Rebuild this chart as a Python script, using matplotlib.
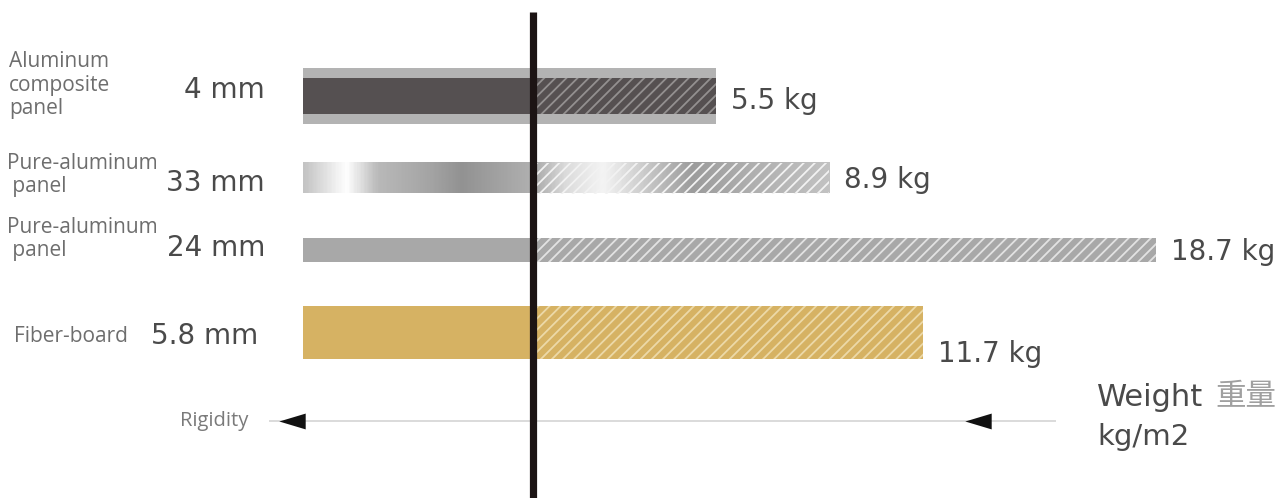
import numpy as np
import matplotlib
matplotlib.use("Agg")
import matplotlib.pyplot as plt
from matplotlib.patches import Rectangle
from matplotlib.colors import LinearSegmentedColormap

# panel data: name, thickness, weight per square metre
names = ["Aluminum\ncomposite\npanel", "Pure-aluminum\n panel", "Pure-aluminum\n panel", "Fiber-board"]
thickness = ["4 mm", "33 mm", "24 mm", "5.8 mm"]
weight = [5.5, 8.9, 18.7, 11.7]

# layout (pixels from top) and styles
row_y = [96, 178, 250, 332]
row_h = [36, 31, 24, 53]
rigid_span = 6.9          # width of the left (rigidity) part, in kg units
px_per_kg = 33.3
W, H = 1284, 498
x0 = 533                  # divider position in pixels

fig = plt.figure(figsize=(W / 100, H / 100), dpi=100)
ax = fig.add_axes([0, 0, 1, 1])
ax.set_xlim(-x0 / px_per_kg, (W - x0) / px_per_kg)
ax.set_ylim(H, 0)
ax.axis("off")

plt.rcParams["hatch.linewidth"] = 1.3

def hatched(y, h, right, face, hatch_col, z=2):
    ax.add_patch(Rectangle((0, y - h / 2), right, h, facecolor=face, edgecolor="none", zorder=z))
    ax.add_patch(Rectangle((0, y - h / 2), right, h, facecolor="none", edgecolor=hatch_col,
                           hatch="///", linewidth=0, zorder=z + 0.1))

# 1: aluminium composite, dark core with light skins
y, h = row_y[0], row_h[0]
ax.barh(y, weight[0] + rigid_span, height=56, left=-rigid_span, color="#b3b3b3", zorder=1)
ax.barh(y, rigid_span, height=h, left=-rigid_span, color="#555051", zorder=2)
hatched(y, h, weight[0], "#555051", "#939090")

# 2: brushed metal gradient
metal = LinearSegmentedColormap.from_list("metal", [
    (0.00, "#c4c4c4"), (0.08, "#ffffff"), (0.14, "#b9b9b9"), (0.24, "#a4a4a4"),
    (0.30, "#929292"), (0.42, "#adadad"), (0.45, "#b2b2b2"), (0.50, "#dcdcdc"),
    (0.57, "#f4f4f4"), (0.64, "#cfcfcf"), (0.74, "#9c9c9c"), (0.86, "#b0b0b0"),
    (1.00, "#c2c2c2")])
y, h = row_y[1], row_h[1]
grad = np.linspace(0, 1, 400)[None, :]
ax.imshow(grad, cmap=metal, aspect="auto", interpolation="bilinear",
          extent=(-rigid_span, weight[1], y + h / 2, y - h / 2), zorder=2)
ax.add_patch(Rectangle((0, y - h / 2), weight[1], h, facecolor="none", edgecolor="#f2f2f2",
                       hatch="///", linewidth=0, zorder=2.1))

# 3: pure aluminium, flat grey
y, h = row_y[2], row_h[2]
ax.barh(y, rigid_span, height=h, left=-rigid_span, color="#a8a8a8", zorder=2)
hatched(y, h, weight[2], "#a8a8a8", "#e2e2e2")

# 4: fiber-board, gold
y, h = row_y[3], row_h[3]
ax.barh(y, rigid_span, height=h, left=-rigid_span, color="#d6b263", zorder=2)
hatched(y, h, weight[3], "#d6b263", "#ecd9a8")

# divider
ax.plot([0, 0], [12, H], color="#1c1414", lw=5.2, solid_capstyle="butt", zorder=5)

# rigidity / weight axis
ax.plot([(270 - x0) / px_per_kg, (1055 - x0) / px_per_kg], [421, 421], color="#dadada", lw=1.4, zorder=1)
tri = [(-1, 0), (1, 0.6), (1, -0.6), (-1, 0)]
ax.plot([(292 - x0) / px_per_kg, (978 - x0) / px_per_kg], [421, 421], ls="none", marker=tri,
        ms=19, color="#111111", mew=0, zorder=3)

small = dict(family="Open Sans", color="#6e6e6e", fontsize=15, va="center", ha="left")
big = dict(family="DejaVu Sans", color="#4a4a4a", fontsize=20, va="center")

name_xy = [(9, 85), (7, 175), (7, 239), (14, 336)]
mm_xy = [(265, 90), (265, 183), (265, 248), (258, 336)]
for (nx, ny), (mx, my), n, t in zip(name_xy, mm_xy, names, thickness):
    fig.text(nx / W, 1 - ny / H, n, linespacing=1.15, **small)
    fig.text(mx / W, 1 - my / H, t, ha="right", **big)

# weight labels
lab_dy = [5, 2, 2, 22]
for y, v, dy in zip(row_y, weight, lab_dy):
    ax.text(v + 0.45, y + dy, f"{v} kg", ha="left", **big)

fig.text(180 / W, 1 - 421 / H, "Rigidity", family="Open Sans", color="#7a7a7a",
         fontsize=14.5, va="center", ha="left")
fig.text(1097 / W, 1 - 397 / H, "Weight", family="DejaVu Sans", color="#4a4a4a",
         fontsize=22, va="center", ha="left")
fig.text(1215 / W, 1 - 397 / H, "重量", family="Noto Sans CJK SC", color="#a0a0a0",
         fontsize=22, va="center", ha="left")
fig.text(1097 / W, 1 - 437 / H, "kg/m2", family="DejaVu Sans", color="#4a4a4a",
         fontsize=21, va="center", ha="left")

fig.savefig("out.png", dpi=100)
